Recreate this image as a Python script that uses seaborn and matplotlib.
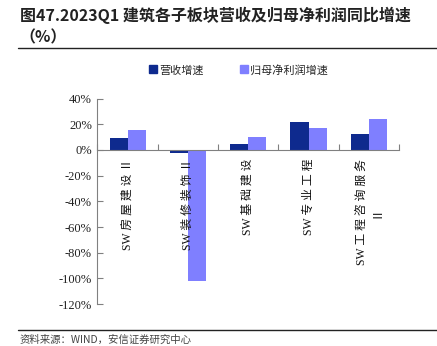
import matplotlib
matplotlib.use("Agg")
import matplotlib.pyplot as plt
import seaborn as sns
import pandas as pd
from matplotlib.lines import Line2D

categories = ["SW房屋建设Ⅱ", "SW装修装饰Ⅱ", "SW基础建设", "SW专业工程", "SW工程咨询服务\nⅡ"]
revenue_growth = [9.0, -2.0, 5.0, 22.0, 12.5]
profit_growth = [15.5, -102.0, 10.0, 17.0, 24.5]
series_names = ["营收增速", "归母净利润增速"]
yticks = [40, 20, 0, -20, -40, -60, -80, -100, -120]

sns.set_theme(style="white")
plt.rcParams['font.family'] = ['Noto Sans CJK SC', 'DejaVu Sans']
SERIF = ['Liberation Serif', 'Noto Sans CJK SC', 'DejaVu Sans']

df = pd.DataFrame({
    "cat": categories * 2,
    "series": [series_names[0]] * len(categories) + [series_names[1]] * len(categories),
    "value": revenue_growth + profit_growth,
})

fig = plt.figure(figsize=(4.37, 3.46), dpi=100)
ax = fig.add_axes([0.223, 0.121, 0.690, 0.594])

palette = {series_names[0]: "#0E2A8E", series_names[1]: "#7F7FFF"}
sns.barplot(data=df, x="cat", y="value", hue="series", palette=palette,
            width=0.6, ax=ax, legend=False, saturation=1,
            edgecolor="none")

ax.set_ylim(-120, 40)
ax.set_xlim(-0.5, len(categories) - 0.5)
ax.set_yticks(yticks)
ax.set_yticklabels([f"{v}%" for v in yticks])
for lbl in ax.get_yticklabels():
    lbl.set_fontfamily(SERIF)
    lbl.set_fontsize(9)
    lbl.set_color("#222222")
ax.tick_params(axis="y", direction="in", length=4, width=0.8, color="#808080", pad=4, left=True)
ax.set_xticks([i - 0.5 for i in range(len(categories) + 1)])
ax.set_xticklabels([])
ax.tick_params(axis="x", direction="in", length=4, width=0.8, color="#808080", bottom=True)
ax.set_xlabel("")
ax.set_ylabel("")
for s in ["top", "right"]:
    ax.spines[s].set_visible(False)
ax.spines["left"].set_color("#808080")
ax.spines["left"].set_linewidth(0.8)
ax.spines["bottom"].set_position(("data", 0))
ax.spines["bottom"].set_color("#808080")
ax.spines["bottom"].set_linewidth(0.8)


def spaced(label):
    lines = label.split("\n")
    out = []
    for ln in lines:
        if ln.startswith("SW"):
            out.append("SW " + " ".join(ln[2:]))
        else:
            out.append(ln)
    return "\n".join(out)


for i, c in enumerate(categories):
    ax.text(i, -7, spaced(c), rotation=90, ha="center", va="top", multialignment="center",
            fontsize=8.5, color="#111111", linespacing=1.3, family=SERIF)

handles = [Line2D([0], [0], marker="s", linestyle="none", markersize=6,
                  markerfacecolor=palette[n], markeredgecolor=palette[n]) for n in series_names]
fig.legend(handles, series_names, loc="center", bbox_to_anchor=(0.545, 0.798),
           ncol=2, frameon=False, fontsize=8, handletextpad=0.2, columnspacing=3.2,
           handlelength=0.8)

fig.text(0.045, 0.955, "图47.2023Q1 建筑各子板块营收及归母净利润同比增速", fontsize=11.5,
         fontweight="bold", ha="left", va="center", color="#222222")
fig.text(0.045, 0.893, "（%）", fontsize=11.5, fontweight="bold", ha="left", va="center", color="#222222")
fig.add_artist(Line2D([0.041, 1.0], [1 - 48 / 346, 1 - 48 / 346], transform=fig.transFigure,
                      color="#222222", linewidth=1.0))
fig.add_artist(Line2D([0.041, 1.0], [1 - 330 / 346, 1 - 330 / 346], transform=fig.transFigure,
                      color="#222222", linewidth=1.0))
fig.text(0.045, 1 - 340 / 346, "资料来源：WIND，安信证券研究中心", fontsize=7.5,
         style="italic", ha="left", va="center", color="#444444")

fig.savefig("out.png", dpi=100)
